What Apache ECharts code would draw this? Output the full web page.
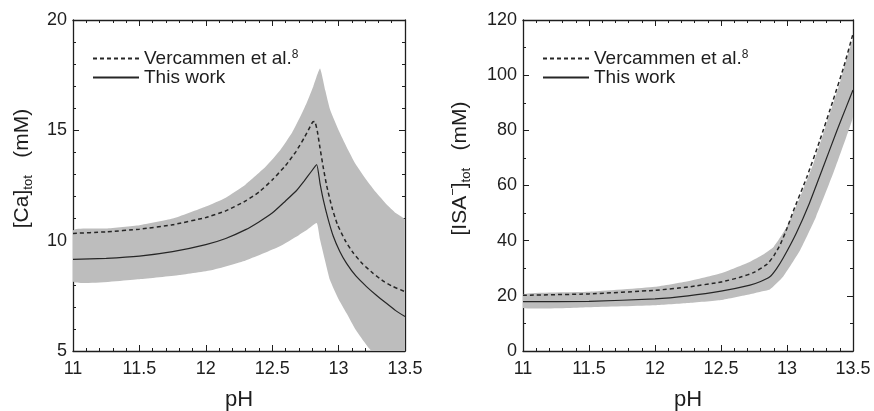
<!DOCTYPE html>
<html>
<head>
<meta charset="utf-8">
<title>Ca and ISA vs pH</title>
<script src="https://cdn.jsdelivr.net/npm/echarts@6/dist/echarts.min.js"></script>
<style>
	html, body { margin: 0; padding: 0; background: #fff; }
	#main { width: 874px; height: 411px; }
</style>
</head>
<body>
<div id="main"></div>
<script>
// left panel: [Ca]tot
var caDashPH = [11, 11.25, 11.5, 11.75, 12, 12.15, 12.3, 12.4, 12.5, 12.6, 12.68, 12.74, 12.78, 12.805, 12.82, 12.84, 12.86, 12.885, 12.91, 12.95, 12.99, 13.05, 13.11, 13.18, 13.26, 13.34, 13.41, 13.5];
var caDash = [10.33, 10.4, 10.52, 10.72, 11.05, 11.35, 11.8, 12.2, 12.75, 13.4, 14.05, 14.65, 15.1, 15.38, 15.4, 14.95, 14.2, 13.3, 12.5, 11.5, 10.75, 10.0, 9.45, 8.95, 8.52, 8.15, 7.92, 7.69];
var caSolidPH = [11, 11.25, 11.5, 11.75, 12, 12.15, 12.3, 12.4, 12.5, 12.6, 12.68, 12.74, 12.79, 12.835, 12.86, 12.885, 12.92, 12.96, 13.01, 13.06, 13.13, 13.21, 13.28, 13.36, 13.43, 13.5];
var caSolid = [9.15, 9.2, 9.3, 9.5, 9.82, 10.1, 10.5, 10.85, 11.25, 11.8, 12.25, 12.7, 13.1, 13.45, 12.6, 11.85, 11.0, 10.2, 9.5, 8.97, 8.4, 7.92, 7.55, 7.16, 6.83, 6.56];
var caUpPH = [11, 11.25, 11.5, 11.75, 12, 12.15, 12.3, 12.45, 12.56, 12.65, 12.71, 12.76, 12.81, 12.86, 12.9, 12.935, 13, 13.06, 13.13, 13.21, 13.28, 13.36, 13.43, 13.5];
var caUp = [10.47, 10.55, 10.7, 11.0, 11.55, 11.95, 12.55, 13.35, 14.1, 14.9, 15.6, 16.25, 17.0, 17.8, 16.8, 15.95, 15.0, 14.25, 13.45, 12.75, 12.2, 11.65, 11.25, 10.94];
var caLoPH = [11, 11.5, 11.8, 12.05, 12.3, 12.55, 12.7, 12.76, 12.835, 12.86, 12.9, 12.935, 13, 13.06, 13.13, 13.21, 13.28, 13.35, 13.42, 13.5];
var caLo = [8.15, 8.25, 8.44, 8.67, 9.1, 9.72, 10.25, 10.48, 10.8, 10.05, 9.05, 8.22, 7.35, 6.71, 5.95, 5.27, 4.75, 4.25, 3.75, 3.3];

// right panel: [ISA-]tot
var isaDashPH = [11, 11.5, 12, 12.25, 12.5, 12.65, 12.75, 12.85, 12.9, 12.95, 13, 13.05, 13.15, 13.25, 13.35, 13.43, 13.5];
var isaDash = [20.2, 20.7, 22.0, 23.2, 25.0, 26.8, 28.5, 31.5, 34.5, 38.7, 44.5, 51, 63, 76.5, 91, 103, 115];
var isaSolidPH = [11, 11.5, 12, 12.25, 12.5, 12.72, 12.8, 12.87, 12.92, 12.97, 13.07, 13.17, 13.275, 13.38, 13.45, 13.5];
var isaSolid = [17.9, 18.0, 18.9, 20.0, 21.7, 23.9, 25.2, 26.9, 29.8, 33.6, 42.7, 53.6, 66.8, 80.1, 88.6, 94.6];
var isaUpPH = [11, 11.5, 12, 12.25, 12.5, 12.72, 12.82, 12.9, 13, 13.1, 13.2, 13.3, 13.4, 13.5];
var isaUp = [20.6, 21.5, 23.3, 25.3, 28.2, 32.4, 35.0, 37.8, 45.1, 55.9, 68.0, 82.5, 97.1, 113];
var isaLoPH = [11, 11.5, 12, 12.25, 12.5, 12.72, 12.8, 12.87, 12.97, 13.1, 13.22, 13.35, 13.45, 13.5];
var isaLo = [15.6, 15.9, 16.6, 17.4, 18.5, 20.6, 21.5, 22.3, 26.9, 36.6, 48.7, 64.4, 77.7, 85];

var names = ['Vercammen et al.', 'This work'];
var phTicks = { min: 11, max: 13.5, interval: 0.5 };

var FONT = 'Liberation Sans';
var INK = '#1e1e1e';
var BAND = '#bdbdbd';

function pairs(xs, ys) {
	return xs.map(function (x, i) { return [x, ys[i]]; });
}

function xAxis(grid, top) {
	return {
		type: 'value', gridIndex: grid, position: top ? 'top' : 'bottom',
		min: phTicks.min, max: phTicks.max, interval: phTicks.interval,
		axisLine: { show: true, onZero: false, lineStyle: { color: INK, width: 1.3 } },
		axisTick: { show: true, inside: true, length: 6, lineStyle: { color: INK, width: 1 } },
		minorTick: { show: true, splitNumber: 5, length: 3, lineStyle: { color: INK, width: 1 } },
		splitLine: { show: false },
		axisLabel: { show: !top, fontSize: 18, margin: 9, color: INK, fontFamily: FONT },
		name: top ? '' : 'pH', nameLocation: 'middle', nameGap: 38,
		nameTextStyle: { fontSize: 22, color: INK, fontFamily: FONT }
	};
}

function yAxis(grid, right, min, max, step, minor, name, gap) {
	return {
		type: 'value', gridIndex: grid, position: right ? 'right' : 'left',
		min: min, max: max, interval: step,
		axisLine: { show: true, onZero: false, lineStyle: { color: INK, width: 1.3 } },
		axisTick: { show: true, inside: true, length: 6, lineStyle: { color: INK, width: 1 } },
		minorTick: { show: true, splitNumber: minor, length: 3, lineStyle: { color: INK, width: 1 } },
		splitLine: { show: false },
		axisLabel: { show: !right, fontSize: 18, margin: 6, color: INK, fontFamily: FONT },
		name: right ? '' : name, nameLocation: 'middle', nameGap: gap, nameRotate: 90,
		nameTextStyle: {
			color: INK, fontFamily: FONT, padding: [0, 0, 0, 34],
			rich: {
				a: { fontSize: 21, lineHeight: 26, color: INK, fontFamily: FONT },
				b: { fontSize: 13, lineHeight: 13, verticalAlign: 'bottom', color: INK, fontFamily: FONT },
				s: { fontSize: 13, lineHeight: 13, verticalAlign: 'top', color: INK, fontFamily: FONT }
			}
		}
	};
}

function band(idx, upX, upY, loX, loY) {
	return {
		type: 'custom', xAxisIndex: idx * 2, yAxisIndex: idx * 2, silent: true, z: 1,
		data: [[upX[0], upY[0]]],
		renderItem: function (params, api) {
			var pts = [];
			for (var i = 0; i < upX.length; i++) pts.push(api.coord([upX[i], upY[i]]));
			for (var j = loX.length - 1; j >= 0; j--) pts.push(api.coord([loX[j], loY[j]]));
			var cs = params.coordSys;
			return {
				type: 'polygon', shape: { points: pts, smooth: 0.15 }, style: { fill: BAND },
				clipPath: { type: 'rect', shape: { x: cs.x, y: cs.y, width: cs.width, height: cs.height } }
			};
		}
	};
}

function line(idx, name, xs, ys, dashed) {
	return {
		type: 'line', name: name, xAxisIndex: idx * 2, yAxisIndex: idx * 2, z: 3,
		data: pairs(xs, ys), symbol: 'none', showSymbol: false, smooth: 0.15,
		lineStyle: { color: '#262626', width: dashed ? 1.5 : 1.2, type: dashed ? [4, 3] : 'solid' },
		itemStyle: { color: '#262626' }
	};
}

function legend(left) {
	return {
		left: left, top: 49, padding: 0, orient: 'vertical', itemWidth: 46, itemHeight: 12, itemGap: 0,
		data: names, selectedMode: false,
		itemStyle: { opacity: 0 },
		formatter: function (n) {
			return n === names[0] ? '{a|' + n + '}{s|8}' : '{a|' + n + '}';
		},
		textStyle: {
			rich: {
				a: { fontSize: 19, lineHeight: 19, color: INK, fontFamily: FONT },
				s: { fontSize: 12, lineHeight: 12, verticalAlign: 'top', color: INK, fontFamily: FONT }
			}
		}
	};
}

var chart = echarts.init(document.getElementById('main'));
chart.setOption({
	animation: false,
	backgroundColor: '#fff',
	grid: [
		{ left: 73, top: 20, width: 332, height: 331, outerBoundsMode: 'none' },
		{ left: 523, top: 20, width: 330, height: 331, outerBoundsMode: 'none' }
	],
	legend: [legend(92), legend(542)],
	xAxis: [xAxis(0, false), xAxis(0, true), xAxis(1, false), xAxis(1, true)],
	yAxis: [
		yAxis(0, false, 5, 20, 5, 5, '{a|[Ca]}{b|tot}{a|   (mM)}', 38),
		yAxis(0, true, 5, 20, 5, 5),
		yAxis(1, false, 0, 120, 20, 2, '{a|[ISA}{s|−}{a|]}{b|tot}{a|   (mM)}', 50),
		yAxis(1, true, 0, 120, 20, 2)
	],
	series: [
		band(0, caUpPH, caUp, caLoPH, caLo),
		line(0, names[0], caDashPH, caDash, true),
		line(0, names[1], caSolidPH, caSolid, false),
		band(1, isaUpPH, isaUp, isaLoPH, isaLo),
		line(1, names[0], isaDashPH, isaDash, true),
		line(1, names[1], isaSolidPH, isaSolid, false)
	]
});
</script>
</body>
</html>
